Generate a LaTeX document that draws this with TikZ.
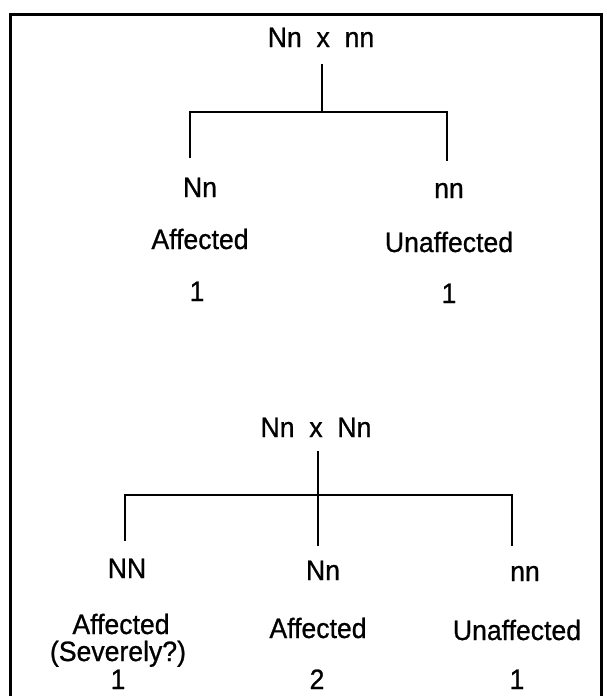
\documentclass[tikz,border=0pt]{standalone}
\usepackage{fontspec}
\setmainfont{Liberation Sans}[FakeStretch=0.95, FakeBold=0.8]
\usepackage{tikz}

\begin{document}
\begin{tikzpicture}[
  x=1pt, y=-1pt,
  txt/.style={font=\fontsize{28}{32}\selectfont, anchor=base, inner sep=0pt},
  link/.style={line width=1.7pt, line cap=rect},
  frame/.style={line width=3pt}
]
  \useasboundingbox (0,0) rectangle (607,696);
  \fill[white] (0,0) rectangle (607,696);
  \draw[frame] (10,700) -- (10,14) -- (601,14) -- (601,700);

  \node[txt] (crossA) at (321,47) {Nn~~x~~nn};
  \node[txt] (genoAl) at (200,197) {Nn};
  \node[txt] (genoAr) at (449,198) {nn};
  \node[txt] (phenAl) at (200,249) {Affected};
  \node[txt] (phenAr) at (449,252) {Unaffected};
  \node[txt] (countAl) at (197,301) {1};
  \node[txt] (countAr) at (449,303) {1};

  \coordinate (topA) at (322,65);
  \coordinate (barA) at (322,112);
  \coordinate (endAl) at (190,157);
  \coordinate (endAr) at (447,160);
  \draw[link] (topA) -- (barA);
  \draw[link] (endAl) |- (barA) -| (endAr);

  \node[txt] (crossB) at (316,437) {Nn~~x~~Nn};
  \node[txt] (genoBl) at (127,578) {NN};
  \node[txt] (genoBm) at (323,580) {Nn};
  \node[txt] (genoBr) at (525,581) {nn};
  \node[txt] (phenBl) at (121,634) {Affected};
  \node[txt] (phenBm) at (318,638) {Affected};
  \node[txt] (phenBr) at (517,640) {Unaffected};
  \node[txt] (noteBl) at (118,661) {(Severely?)};
  \node[txt] (countBl) at (118,689) {1};
  \node[txt] (countBm) at (317,689) {2};
  \node[txt] (countBr) at (517,689) {1};

  \coordinate (topB) at (318,452);
  \coordinate (barB) at (318,495);
  \coordinate (endBl) at (125,540);
  \coordinate (endBm) at (318,545);
  \coordinate (endBr) at (512,545);
  \draw[link] (topB) -- (endBm);
  \draw[link] (endBl) |- (barB) -| (endBr);
\end{tikzpicture}
\end{document}
